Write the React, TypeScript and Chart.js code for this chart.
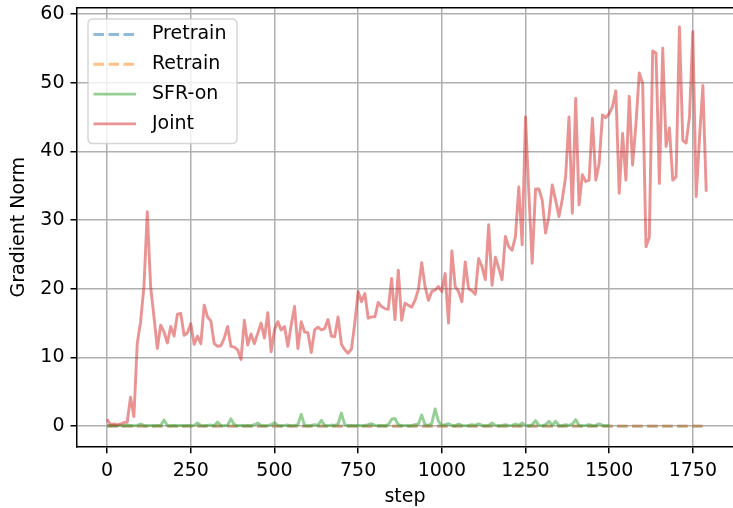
import React, { useEffect, useRef } from 'react';
import { Chart, registerables } from 'chart.js';

Chart.register(...registerables);

const STEP = 10;

// Joint gradient norm, one value every 10 steps starting at step 0
const jointValues = [
  1.0, 0.2, 0.3, 0.2, 0.3, 0.5, 0.6, 4.2, 1.4, 12.0,
  15.2, 20.3, 31.2, 20.3, 15.9, 11.3, 14.7, 13.7, 12.1, 14.5,
  13.1, 16.3, 16.4, 13.2, 13.6, 14.9, 11.9, 13.1, 12.0, 17.6,
  15.9, 15.3, 12.0, 11.6, 11.7, 12.8, 14.5, 11.6, 11.5, 11.1,
  9.7, 15.4, 11.8, 13.4, 12.0, 13.5, 15.0, 12.8, 16.5, 10.8,
  14.0, 15.2, 14.0, 14.5, 11.6, 14.7, 17.4, 11.3, 15.2, 13.7,
  13.6, 10.7, 14.0, 14.4, 14.0, 14.2, 15.5, 13.1, 13.0, 15.9,
  11.9, 11.1, 10.6, 11.2, 15.0, 19.6, 18.1, 19.3, 15.7, 15.9,
  15.9, 18.0, 17.4, 17.1, 17.0, 21.5, 15.5, 22.7, 15.4, 17.9,
  17.6, 17.3, 18.3, 19.9, 23.8, 20.3, 18.3, 19.6, 19.8, 20.3,
  19.6, 22.2, 15.0, 25.5, 20.3, 19.6, 18.1, 23.9, 20.0, 19.7,
  19.2, 24.4, 23.2, 21.3, 29.3, 20.5, 24.6, 23.0, 21.3, 27.6,
  26.1, 25.6, 27.6, 34.8, 26.4, 45.0, 34.0, 23.7, 34.5, 34.5,
  32.9, 28.1, 30.5, 35.1, 32.9, 30.5, 33.0, 36.3, 45.0, 31.0,
  47.7, 32.2, 36.6, 35.6, 35.8, 44.8, 35.8, 38.2, 45.3, 44.9,
  45.5, 46.5, 48.8, 33.9, 42.6, 35.8, 48.0, 38.0, 44.0, 51.4,
  49.9, 26.1, 27.5, 54.6, 54.3, 35.3, 55.0, 40.7, 43.4, 35.8,
  36.3, 58.1, 41.6, 41.2, 45.0, 57.4, 33.4, 42.0, 49.6, 34.1,
];

// SFR-on gradient norm, every 10 steps from 0 to 1500
const sfrValues = [
  0.1, 0.05, 0.1, 0.05, 0.1, 0.05, 0.15, 0.1, 0.05, 0.1,
  0.3, 0.1, 0.05, 0.1, 0.05, 0.1, 0.1, 0.9, 0.1, 0.05,
  0.1, 0.05, 0.1, 0.05, 0.1, 0.05, 0.1, 0.45, 0.1, 0.05,
  0.1, 0.15, 0.05, 0.6, 0.1, 0.05, 0.15, 1.05, 0.2, 0.05,
  0.1, 0.05, 0.1, 0.05, 0.2, 0.45, 0.1, 0.05, 0.1, 0.2,
  0.5, 0.1, 0.05, 0.1, 0.15, 0.05, 0.1, 0.2, 1.7, 0.1,
  0.05, 0.1, 0.2, 0.1, 0.85, 0.1, 0.05, 0.15, 0.1, 0.3,
  1.9, 0.2, 0.05, 0.1, 0.05, 0.1, 0.05, 0.1, 0.2, 0.35,
  0.1, 0.05, 0.1, 0.05, 0.2, 1.0, 1.1, 0.2, 0.05, 0.1,
  0.05, 0.1, 0.2, 0.3, 1.6, 0.2, 0.1, 0.4, 2.5, 0.7,
  0.1, 0.2, 0.35, 0.1, 0.05, 0.3, 0.1, 0.05, 0.1, 0.2,
  0.1, 0.35, 0.1, 0.05, 0.1, 0.45, 0.1, 0.05, 0.1, 0.2,
  0.05, 0.1, 0.3, 0.1, 0.45, 0.1, 0.05, 0.2, 0.8, 0.1,
  0.05, 0.2, 0.7, 0.1, 0.7, 0.1, 0.05, 0.2, 0.1, 0.3,
  0.95, 0.1, 0.05, 0.1, 0.2, 0.05, 0.1, 0.35, 0.1, 0.05,
  0.1,
];

// Pretrain / Retrain stay at zero over the whole run
const pretrainSteps = [0, 1790];
const pretrainValues = [0, 0];
const retrainSteps = [0, 1790];
const retrainValues = [0, 0];

const xTicks = [0, 250, 500, 750, 1000, 1250, 1500, 1750];
const yTicks = [0, 10, 20, 30, 40, 50, 60];

const seriesNames = ['Pretrain', 'Retrain', 'SFR-on', 'Joint'];
const seriesColors = [
  'rgba(31,119,180,0.5)',
  'rgba(255,127,14,0.5)',
  'rgba(44,160,44,0.5)',
  'rgba(214,39,40,0.5)',
];
const DASH = [10.5, 4.5];
const FONT = 'DejaVu Sans';

const legendPlugin = {
  id: 'mplFrameLegend',
  afterDraw(chart: any) {
    const { ctx, chartArea } = chart;
    ctx.save();
    // top spine
    ctx.strokeStyle = '#000';
    ctx.lineWidth = 1.5;
    ctx.beginPath();
    ctx.moveTo(chartArea.left, chartArea.top);
    ctx.lineTo(chartArea.right, chartArea.top);
    ctx.stroke();

    // legend box
    const bx = 88, by = 19, bw = 149, bh = 124.5, r = 5;
    ctx.beginPath();
    ctx.moveTo(bx + r, by);
    ctx.lineTo(bx + bw - r, by);
    ctx.quadraticCurveTo(bx + bw, by, bx + bw, by + r);
    ctx.lineTo(bx + bw, by + bh - r);
    ctx.quadraticCurveTo(bx + bw, by + bh, bx + bw - r, by + bh);
    ctx.lineTo(bx + r, by + bh);
    ctx.quadraticCurveTo(bx, by + bh, bx, by + bh - r);
    ctx.lineTo(bx, by + r);
    ctx.quadraticCurveTo(bx, by, bx + r, by);
    ctx.closePath();
    ctx.fillStyle = 'rgba(255,255,255,0.8)';
    ctx.fill();
    ctx.strokeStyle = 'rgba(204,204,204,0.8)';
    ctx.lineWidth = 1.5;
    ctx.stroke();

    ctx.font = `19px "${FONT}"`;
    ctx.textBaseline = 'middle';
    ctx.textAlign = 'left';
    seriesNames.forEach((name, i) => {
      const cy = 34.5 + i * 29.8;
      ctx.strokeStyle = seriesColors[i];
      ctx.lineWidth = 2.9;
      ctx.setLineDash(i < 2 ? DASH : []);
      ctx.lineCap = 'butt';
      ctx.beginPath();
      ctx.moveTo(93.5, cy);
      ctx.lineTo(136, cy);
      ctx.stroke();
      ctx.setLineDash([]);
      ctx.fillStyle = '#000';
      ctx.fillText(name, 152, cy);
    });
    ctx.restore();
  },
};

export default function App() {
  const canvasRef = useRef<HTMLCanvasElement | null>(null);

  useEffect(() => {
    const canvas = canvasRef.current;
    if (!canvas) return;
    Chart.defaults.font.family = FONT;
    Chart.defaults.font.size = 19;
    Chart.defaults.color = '#000';

    const jointPts = jointValues.map((v, i) => ({ x: i * STEP, y: v }));
    const sfrPts = sfrValues.map((v, i) => ({ x: i * STEP, y: v }));
    const prePts = pretrainValues.map((v, i) => ({ x: pretrainSteps[i], y: v }));
    const rePts = retrainValues.map((v, i) => ({ x: retrainSteps[i], y: v }));

    const common = { pointRadius: 0, borderWidth: 2.9, tension: 0, fill: false, borderJoinStyle: 'round' as const };

    const chart = new Chart(canvas, {
      type: 'line',
      data: {
        datasets: [
          { label: seriesNames[3], data: jointPts, borderColor: seriesColors[3], ...common },
          { label: seriesNames[2], data: sfrPts, borderColor: seriesColors[2], ...common },
          { label: seriesNames[1], data: rePts, borderColor: seriesColors[1], borderDash: DASH, ...common },
          { label: seriesNames[0], data: prePts, borderColor: seriesColors[0], borderDash: DASH, ...common },
        ],
      },
      options: {
        animation: false,
        responsive: false,
        devicePixelRatio: 1,
        layout: { padding: { top: 7.7, left: 0, right: 0, bottom: 0 } },
        plugins: { legend: { display: false }, tooltip: { enabled: false } },
        scales: {
          x: {
            type: 'linear',
            min: -90,
            max: 1870,
            afterBuildTicks: (s: any) => { s.ticks = xTicks.map((v) => ({ value: v })); },
            afterFit: (s: any) => { s.height = 61.3; s.paddingLeft = 0; s.paddingRight = 0; },
            grid: { color: '#b0b0b0', lineWidth: 1.5, tickColor: '#000', tickWidth: 1.5, tickLength: 6.5 },
            border: { color: '#000', width: 1.5 },
            ticks: { padding: 6, maxRotation: 0, autoSkip: false, font: { size: 19 }, callback: (v: any) => String(v) },
            title: { display: true, text: 'step', font: { size: 19 }, padding: { top: 0, bottom: 0 } },
          },
          y: {
            type: 'linear',
            min: -3,
            max: 60.9,
            afterBuildTicks: (s: any) => { s.ticks = yTicks.map((v) => ({ value: v })); },
            afterFit: (s: any) => { s.width = 77; s.paddingTop = 0; s.paddingBottom = 0; },
            grid: { color: '#b0b0b0', lineWidth: 1.5, tickColor: '#000', tickWidth: 1.5, tickLength: 6.5 },
            border: { color: '#000', width: 1.5 },
            ticks: { padding: 6, autoSkip: false, font: { size: 19 }, callback: (v: any) => String(v) },
            title: { display: true, text: 'Gradient Norm', font: { size: 19 }, padding: { top: 7.5, bottom: 0 } },
          },
        },
      },
      plugins: [legendPlugin],
    });
    return () => chart.destroy();
  }, []);

  return (
    <div style={{ position: 'fixed', left: 0, top: 0, width: 733, height: 508, background: '#fff' }}>
      <canvas ref={canvasRef} width={733} height={508} style={{ display: 'block' }} />
    </div>
  );
}
